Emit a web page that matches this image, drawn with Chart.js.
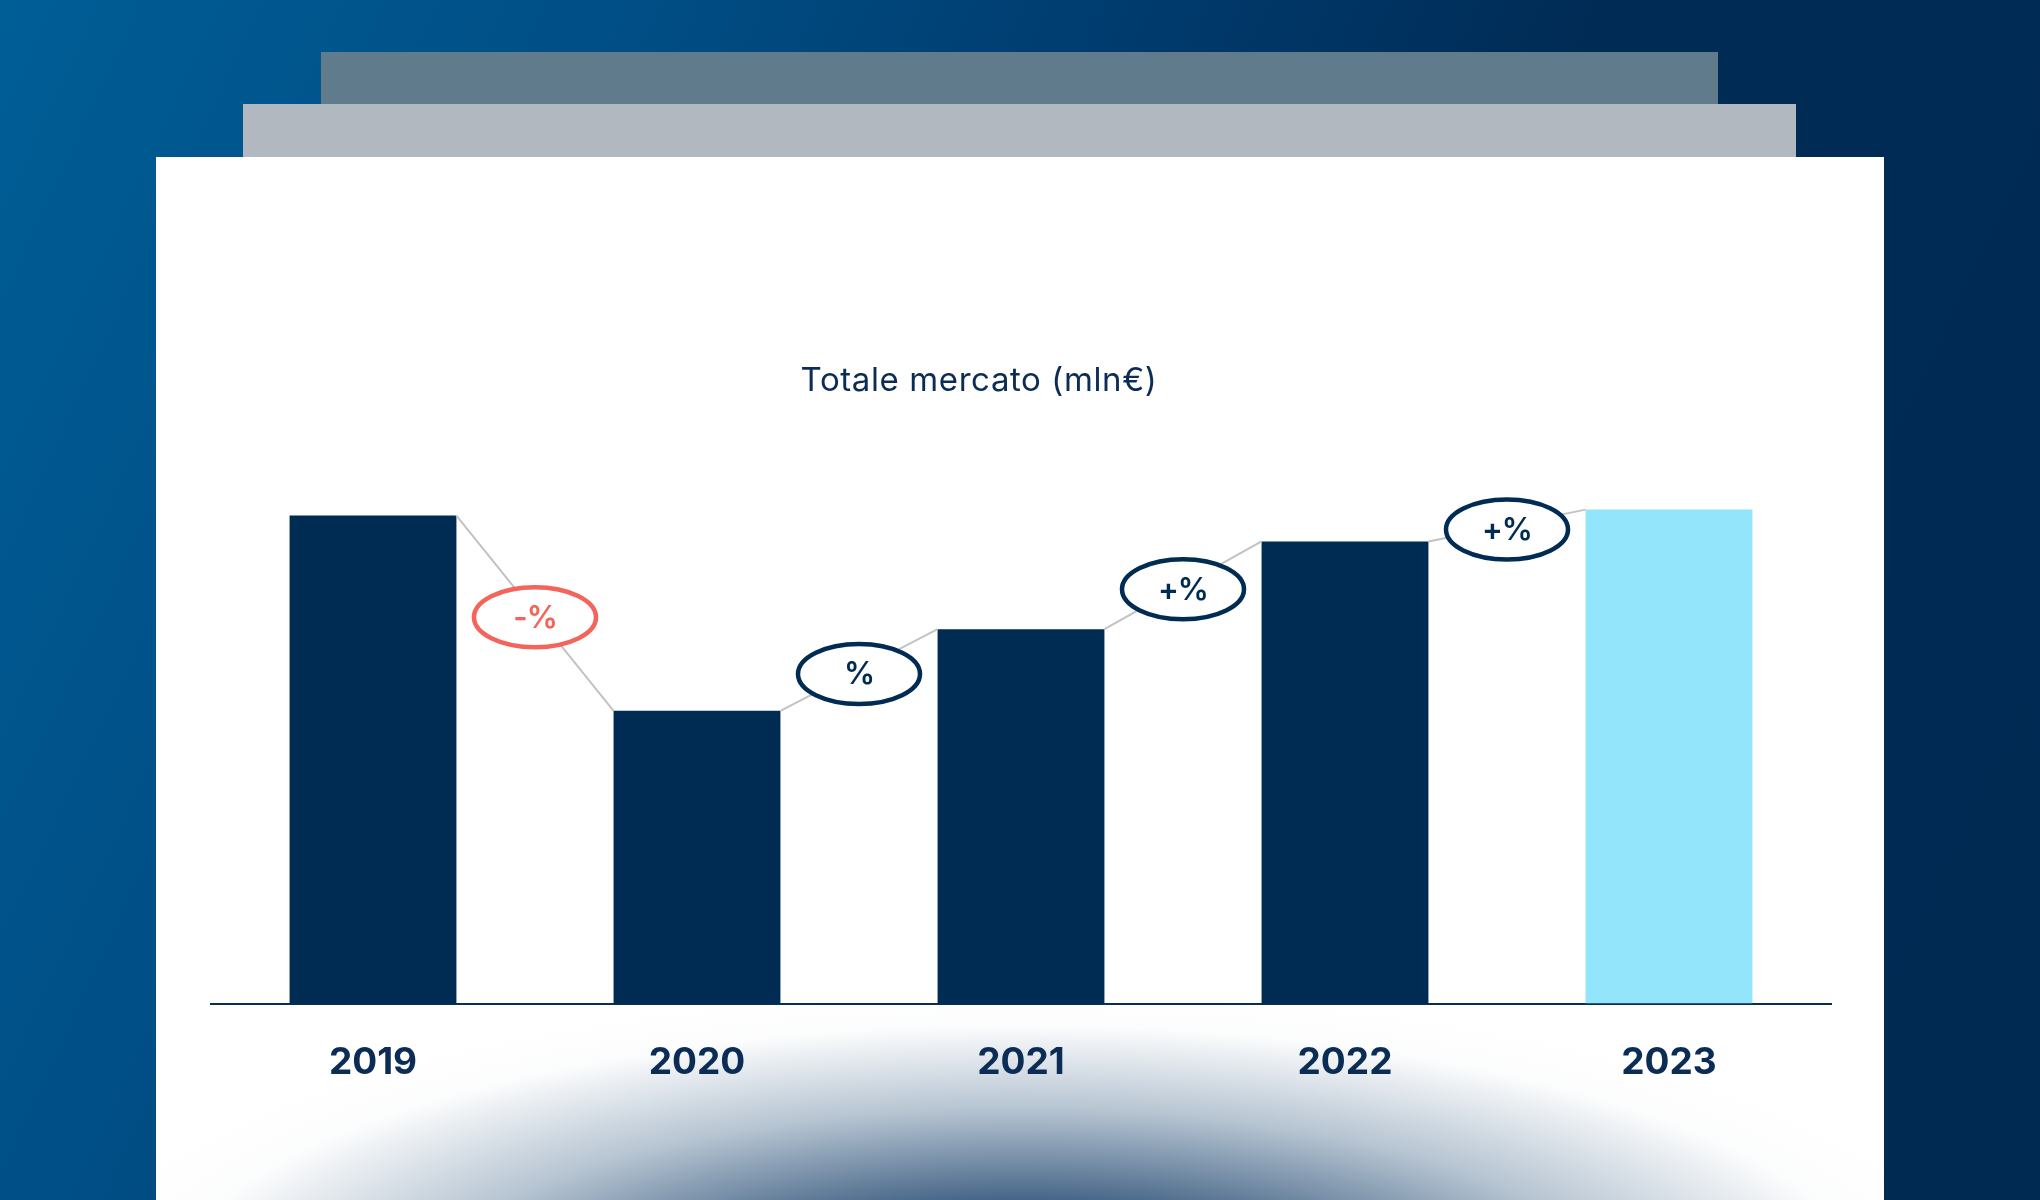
<!DOCTYPE html>
<html>
<head>
<meta charset="utf-8">
<script src="https://cdn.jsdelivr.net/npm/chart.js@4/dist/chart.umd.min.js"></script>
<style>
  html, body { margin:0; padding:0; width:2040px; height:1200px; overflow:hidden; }
  body {
    position:relative;
    background: linear-gradient(115deg, #005e96 0%, #004e85 25%, #003a6c 45%, #002b55 62%, #002a52 100%);
  }
  .r1 { position:absolute; left:321px; top:52px; width:1397px; height:120px; background:#5f7b8c; }
  .r2 { position:absolute; left:243px; top:104px; width:1553px; height:80px; background:#b1b8bf; }
  .panel {
    position:absolute; left:156px; top:157px; width:1728px; height:1043px; overflow:hidden;
    background:
      radial-gradient(ellipse 980px 320px at 50% 1150px, rgba(12,45,85,1) 0%, rgba(35,72,112,0.9) 30%, rgba(110,138,165,0.5) 62%, rgba(230,235,240,0.12) 88%, rgba(255,255,255,0) 100%),
      #ffffff;
  }
  canvas { position:absolute; left:0; top:0; }
</style>
</head>
<body>
<div class="r1"></div>
<div class="r2"></div>
<div class="panel"><canvas id="c" width="1728" height="1043"></canvas></div>
<script>
const categories = ["2019", "2020", "2021", "2022", "2023"];
const marketValues = [490, 294, 376, 464, 496];
const changeLabels = ["-%", "%", "+%", "+%"];
const changeNegative = [true, false, false, false];
const chartTitle = "Totale mercato (mln€)";
const yMax = 590;

const NAVY = "#002b53";
const LIGHT = "#93e5fc";
const RED = "#f4645a";
const FONT = "Inter, 'Open Sans', sans-serif";

const titlePlugin = {
  id: "titleText",
  afterDraw(chart) {
    const ctx = chart.ctx;
    const ca = chart.chartArea;
    ctx.save();
    ctx.fillStyle = "#0b2d55";
    ctx.font = "400 33px " + FONT;
    try { ctx.letterSpacing = "0.6px"; } catch (e) {}
    ctx.textAlign = "center"; ctx.textBaseline = "middle";
    ctx.fillText(chartTitle, (ca.left + ca.right) / 2 - 42, 224);
    ctx.restore();
  }
};

const connectors = {
  id: "connectors",
  afterDatasetsDraw(chart) {
    const ctx = chart.ctx;
    const bars = chart.getDatasetMeta(0).data;
    for (let i = 0; i < bars.length - 1; i++) {
      const a = bars[i], b = bars[i + 1];
      const x1 = a.x + a.width / 2, y1 = a.y;
      const x2 = b.x - b.width / 2, y2 = b.y;
      ctx.save();
      ctx.strokeStyle = "#c2c2c2";
      ctx.lineWidth = 2;
      ctx.beginPath(); ctx.moveTo(x1, y1); ctx.lineTo(x2, y2); ctx.stroke();
      const cx = (x1 + x2) / 2, cy = (y1 + y2) / 2 + 4;
      const col = changeNegative[i] ? RED : NAVY;
      ctx.beginPath();
      ctx.ellipse(cx, cy, 61, 30, 0, 0, Math.PI * 2);
      ctx.fillStyle = "#ffffff"; ctx.fill();
      ctx.lineWidth = 4.5; ctx.strokeStyle = col; ctx.stroke();
      ctx.fillStyle = col;
      ctx.font = "600 31px " + FONT;
      try { ctx.letterSpacing = "-1px"; } catch (e) {}
      ctx.textAlign = "center"; ctx.textBaseline = "middle";
      ctx.fillText(changeLabels[i], cx, cy + 1);
      ctx.restore();
    }
  }
};

new Chart(document.getElementById("c"), {
  type: "bar",
  data: {
    labels: categories,
    datasets: [{
      data: marketValues,
      backgroundColor: categories.map((c, i) => i === categories.length - 1 ? LIGHT : NAVY),
      borderWidth: 0,
      categoryPercentage: 1,
      barPercentage: 0.515
    }]
  },
  options: {
    responsive: false,
    animation: false,
    devicePixelRatio: 1,
    layout: { padding: { left: 55, right: 53, top: 259, bottom: 78 } },
    plugins: {
      legend: { display: false },
      tooltip: { enabled: false },
      title: { display: false }
    },
    scales: {
      x: {
        grid: { display: false, drawTicks: false },
        border: { display: true, color: "#0b2d55", width: 2 },
        ticks: { color: "#0b2d55", padding: 37, font: { family: FONT, size: 37, weight: "700", lineHeight: 1.2 } }
      },
      y: {
        display: false,
        min: 0, max: yMax
      }
    }
  },
  plugins: [connectors, titlePlugin]
});
</script>
</body>
</html>
